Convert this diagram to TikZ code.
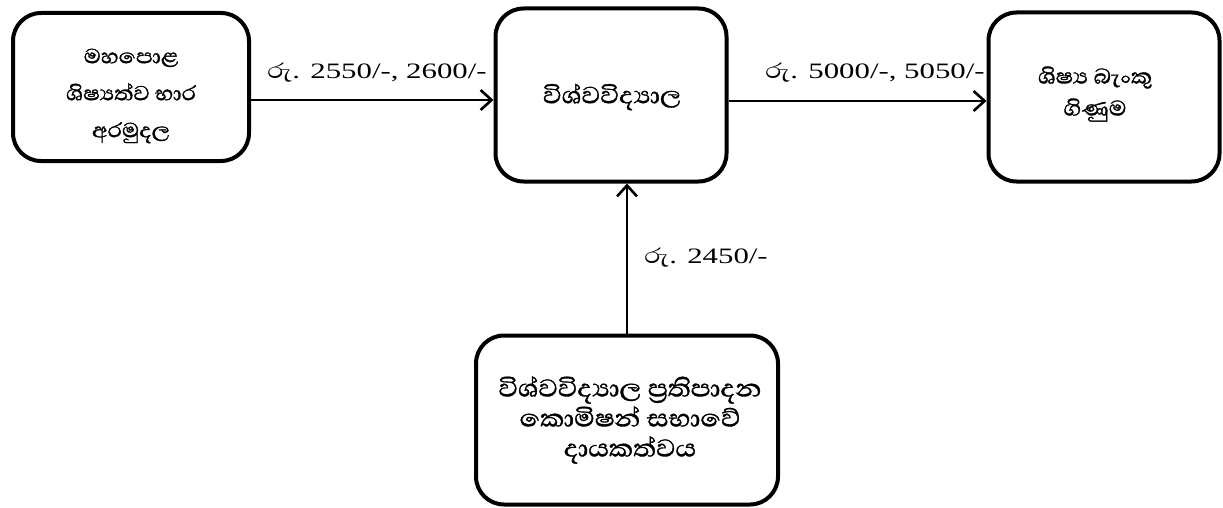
\documentclass[tikz,border=0pt]{standalone}
\usepackage{fontspec}
\setmainfont{Liberation Serif}
\newfontfamily\sinhfont[Script=Sinhala,FakeStretch=1.1,FakeBold=1.2]{Abhaya Libre}
\newfontfamily\lblfont[FakeStretch=1.4]{Liberation Serif}
\newfontfamily\lblsinh[Script=Sinhala,FakeStretch=1.2]{Abhaya Libre}
\usetikzlibrary{arrows.meta}
\begin{document}
\begin{tikzpicture}[x=1pt,y=-1pt,
  box/.style={draw,line width=4pt,rounded corners=28pt,inner sep=0pt},
  txt/.style={align=center,inner sep=0pt,font=\sinhfont\fontsize{30}{32}\selectfont},
  flow/.style={line width=2.6pt,-{Straight Barb[length=11pt,width=20pt,line width=2.6pt]}},
  lbl/.style={font=\lblfont\fontsize{22}{24}\selectfont,inner sep=0pt}]
\useasboundingbox (0,0) rectangle (1223,508);
\node[box,minimum width=236pt,minimum height=148pt] (a) at (131,87) {};
\node[box,minimum width=231pt,minimum height=173pt] (b) at (611,95) {};
\node[box,minimum width=231pt,minimum height=169pt] (c) at (1104,97) {};
\node[box,minimum width=302pt,minimum height=169pt] (d) at (627,420) {};
\node[txt,font=\sinhfont\fontsize{26}{37}\selectfont] (at) at (131,96) {මහපොළ\\ශිෂ්‍යත්ව භාර\\අරමුදල};
\node[txt,font=\sinhfont\fontsize{30}{32}\selectfont] (bt) at (612,97) {විශ්වවිද්‍යාල};
\node[txt,font=\sinhfont\fontsize{27}{32}\selectfont] (ct) at (1095,94) {ශිෂ්‍ය බැංකු\\ගිණුම};
\node[txt,font=\sinhfont\fontsize{31}{30}\selectfont] (dt) at (630,420) {විශ්වවිද්‍යාල ප්‍රතිපාදන\\කොමිෂන් සභාවේ\\දායකත්වය};
\draw[flow] (a.east |- 0,100) -- (b.west |- 0,100);
\draw[flow] (b.east |- 0,101) -- (c.west |- 0,101);
\draw[flow] (d.north -| 627,0) -- (b.south -| 627,0);
\node[lbl] (la) at (377,73) {{\lblsinh\fontsize{27}{24}\selectfont රු}. 2550/-, 2600/-};
\node[lbl] (lc) at (875,73) {{\lblsinh\fontsize{27}{24}\selectfont රු}. 5000/-, 5050/-};
\node[lbl] (ld) at (706,258) {{\lblsinh\fontsize{27}{24}\selectfont රු}. 2450/-};
\end{tikzpicture}
\end{document}
